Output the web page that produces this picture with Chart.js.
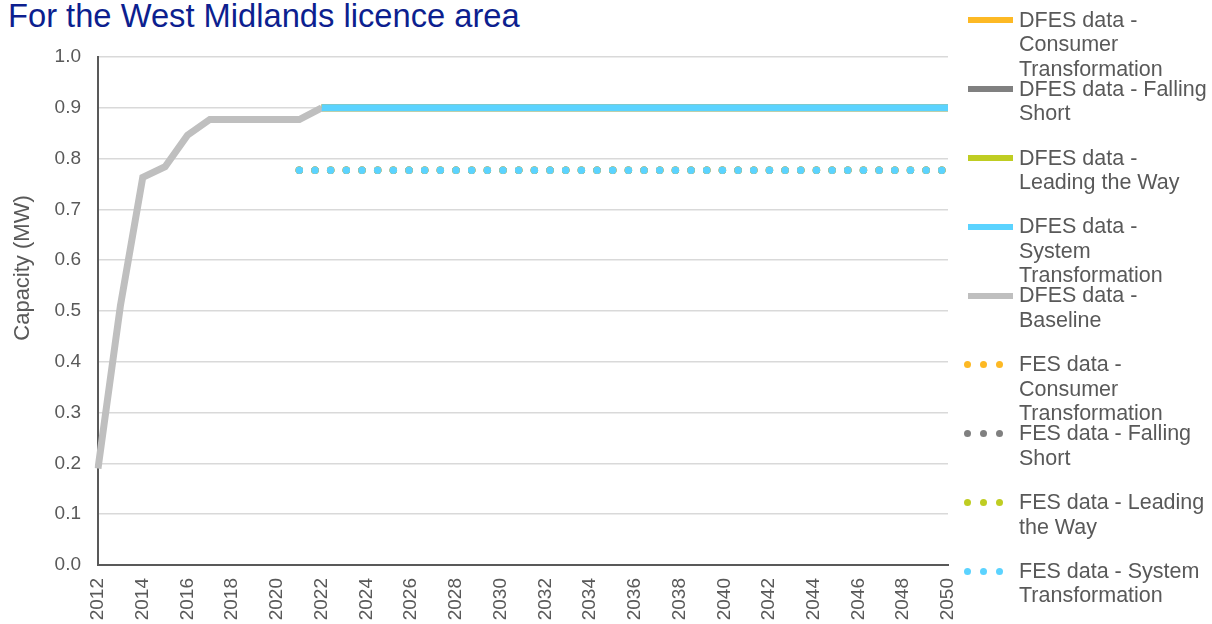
<!DOCTYPE html>
<html>
<head>
<meta charset="utf-8">
<script src="https://cdn.jsdelivr.net/npm/chart.js@4.4.1/dist/chart.umd.min.js"></script>
<style>
  html, body { margin: 0; padding: 0; background: #ffffff; }
  #wrap { position: relative; width: 1212px; height: 624px; overflow: hidden; font-family: "Liberation Sans", Arial, sans-serif; }
  #title { position: absolute; left: 8px; top: 0px; font-size: 32.7px; line-height: 32px; color: #0d1f8f; white-space: nowrap; }
  canvas { position: absolute; left: 0; top: 0; }
  .lg-text { position: absolute; left: 1019px; font-size: 21.5px; line-height: 24.5px; color: #595959; white-space: nowrap; }
  .lg-line { position: absolute; left: 968px; width: 45px; height: 6px; }
  .lg-dot { position: absolute; width: 7px; height: 7px; border-radius: 50%; }
</style>
</head>
<body>
<div id="wrap">
  <div id="title">For the West Midlands licence area</div>
  <canvas id="c" width="1212" height="624"></canvas>
</div>
<script>
const years = ['2012','2013','2014','2015','2016','2017','2018','2019','2020','2021',
               '2022','2023','2024','2025','2026','2027','2028','2029','2030','2031',
               '2032','2033','2034','2035','2036','2037','2038','2039','2040','2041',
               '2042','2043','2044','2045','2046','2047','2048','2049','2050'];

const yTicks = [0.0,0.1,0.2,0.3,0.4,0.5,0.6,0.7,0.8,0.9,1.0];

const dfesConsumer = [null,null,null,null,null,null,null,null,null,null,
  0.9,0.9,0.9,0.9,0.9,0.9,0.9,0.9,0.9,0.9,
  0.9,0.9,0.9,0.9,0.9,0.9,0.9,0.9,0.9,0.9,
  0.9,0.9,0.9,0.9,0.9,0.9,0.9,0.9,0.9];
const dfesFalling = [null,null,null,null,null,null,null,null,null,null,
  0.9,0.9,0.9,0.9,0.9,0.9,0.9,0.9,0.9,0.9,
  0.9,0.9,0.9,0.9,0.9,0.9,0.9,0.9,0.9,0.9,
  0.9,0.9,0.9,0.9,0.9,0.9,0.9,0.9,0.9];
const dfesLeading = [null,null,null,null,null,null,null,null,null,null,
  0.9,0.9,0.9,0.9,0.9,0.9,0.9,0.9,0.9,0.9,
  0.9,0.9,0.9,0.9,0.9,0.9,0.9,0.9,0.9,0.9,
  0.9,0.9,0.9,0.9,0.9,0.9,0.9,0.9,0.9];
const dfesSystem = [null,null,null,null,null,null,null,null,null,null,
  0.9,0.9,0.9,0.9,0.9,0.9,0.9,0.9,0.9,0.9,
  0.9,0.9,0.9,0.9,0.9,0.9,0.9,0.9,0.9,0.9,
  0.9,0.9,0.9,0.9,0.9,0.9,0.9,0.9,0.9];
const dfesBaseline = [0.19,0.51,0.763,0.784,0.846,0.877,0.877,0.877,0.877,0.877,
  0.9,null,null,null,null,null,null,null,null,null,
  null,null,null,null,null,null,null,null,null,null,
  null,null,null,null,null,null,null,null,null];
const fesConsumer = [null,null,null,null,null,null,null,null,null,0.777,
  0.777,0.777,0.777,0.777,0.777,0.777,0.777,0.777,0.777,0.777,
  0.777,0.777,0.777,0.777,0.777,0.777,0.777,0.777,0.777,0.777,
  0.777,0.777,0.777,0.777,0.777,0.777,0.777,0.777,0.777];
const fesFalling = [null,null,null,null,null,null,null,null,null,0.777,
  0.777,0.777,0.777,0.777,0.777,0.777,0.777,0.777,0.777,0.777,
  0.777,0.777,0.777,0.777,0.777,0.777,0.777,0.777,0.777,0.777,
  0.777,0.777,0.777,0.777,0.777,0.777,0.777,0.777,0.777];
const fesLeading = [null,null,null,null,null,null,null,null,null,0.777,
  0.777,0.777,0.777,0.777,0.777,0.777,0.777,0.777,0.777,0.777,
  0.777,0.777,0.777,0.777,0.777,0.777,0.777,0.777,0.777,0.777,
  0.777,0.777,0.777,0.777,0.777,0.777,0.777,0.777,0.777];
const fesSystem = [null,null,null,null,null,null,null,null,null,0.777,
  0.777,0.777,0.777,0.777,0.777,0.777,0.777,0.777,0.777,0.777,
  0.777,0.777,0.777,0.777,0.777,0.777,0.777,0.777,0.777,0.777,
  0.777,0.777,0.777,0.777,0.777,0.777,0.777,0.777,0.777];

const seriesNames = [
  'DFES data - Consumer Transformation',
  'DFES data - Falling Short',
  'DFES data - Leading the Way',
  'DFES data - System Transformation',
  'DFES data - Baseline',
  'FES data - Consumer Transformation',
  'FES data - Falling Short',
  'FES data - Leading the Way',
  'FES data - System Transformation'
];
const legendLines = [
  ['DFES data -','Consumer','Transformation'],
  ['DFES data - Falling','Short'],
  ['DFES data -','Leading the Way'],
  ['DFES data -','System','Transformation'],
  ['DFES data -','Baseline'],
  ['FES data -','Consumer','Transformation'],
  ['FES data - Falling','Short'],
  ['FES data - Leading','the Way'],
  ['FES data - System','Transformation']
];
const seriesColors = ['#fdb924','#808080','#bfcd22','#5bd3ff','#bfbfbf','#fdb924','#808080','#bfcd22','#5bd3ff'];
const seriesDotted = [false,false,false,false,false,true,true,true,true];
const seriesData = [dfesConsumer,dfesFalling,dfesLeading,dfesSystem,dfesBaseline,fesConsumer,fesFalling,fesLeading,fesSystem];
const seriesOrder = [2,2,2,0,1,4,4,4,3];

const textColor = '#595959';
const FONT = '"Liberation Sans", Arial, sans-serif';

const datasets = seriesNames.map((name, i) => ({
  label: name,
  data: seriesData[i],
  borderColor: seriesColors[i],
  backgroundColor: seriesColors[i],
  borderWidth: seriesDotted[i] ? 7.5 : 7,
  borderDash: seriesDotted[i] ? [0, 15.67] : [],
  borderCapStyle: seriesDotted[i] ? 'round' : 'butt',
  borderJoinStyle: 'miter',
  pointRadius: 0,
  pointHoverRadius: 0,
  tension: 0,
  fill: false,
  spanGaps: false,
  order: seriesOrder[i]
}));

const yTitlePlugin = {
  id: 'yTitle',
  afterDraw(chart) {
    const ctx = chart.ctx;
    ctx.save();
    ctx.translate(23, 268);
    ctx.rotate(-Math.PI / 2);
    ctx.font = '22px ' + FONT;
    ctx.fillStyle = textColor;
    ctx.textAlign = 'center';
    ctx.textBaseline = 'middle';
    ctx.fillText('Capacity (MW)', 0, 0);
    ctx.restore();
  }
};

new Chart(document.getElementById('c'), {
  type: 'line',
  data: { labels: years, datasets: datasets },
  options: {
    responsive: false,
    animation: false,
    devicePixelRatio: 1,
    layout: { padding: { left: 0, top: 57, right: 264, bottom: 0 } },
    plugins: { legend: { display: false }, title: { display: false }, tooltip: { enabled: false } },
    scales: {
      x: {
        type: 'category',
        offset: false,
        grid: { display: false, drawTicks: false },
        border: { display: true, color: '#595959', width: 2 },
        ticks: {
          autoSkip: false,
          maxRotation: 90,
          minRotation: 90,
          padding: 13,
          color: textColor,
          font: { family: FONT, size: 19 },
          callback: function(v, idx) { return idx % 2 === 0 ? years[idx] : ''; }
        },
        afterFit: function(scale) { scale.height = 59; }
      },
      y: {
        min: 0,
        max: 1,
        grid: { color: '#d9d9d9', lineWidth: 1.5, drawTicks: false },
        border: { display: true, color: '#595959', width: 2 },
        afterBuildTicks: function(scale) { scale.ticks = yTicks.map(v => ({ value: v })); },
        ticks: {
          padding: 17,
          color: textColor,
          font: { family: FONT, size: 19 },
          callback: function(v) { return Number(v).toFixed(1); }
        },
        afterFit: function(scale) { scale.width = 98; }
      }
    }
  },
  plugins: [yTitlePlugin]
});

// HTML legend built from the series arrays
const wrap = document.getElementById('wrap');
seriesNames.forEach((name, i) => {
  const cy = 20 + i * 68.9;
  if (seriesDotted[i]) {
    [967, 983, 999].forEach(cx => {
      const d = document.createElement('div');
      d.className = 'lg-dot';
      d.style.left = (cx - 3.5) + 'px';
      d.style.top = (cy - 3.5) + 'px';
      d.style.background = seriesColors[i];
      wrap.appendChild(d);
    });
  } else {
    const l = document.createElement('div');
    l.className = 'lg-line';
    l.style.top = (cy - 3) + 'px';
    l.style.background = seriesColors[i];
    wrap.appendChild(l);
  }
  const t = document.createElement('div');
  t.className = 'lg-text';
  t.style.top = (cy - 12.25) + 'px';
  t.innerHTML = legendLines[i].join('<br>');
  wrap.appendChild(t);
});
</script>
</body>
</html>
